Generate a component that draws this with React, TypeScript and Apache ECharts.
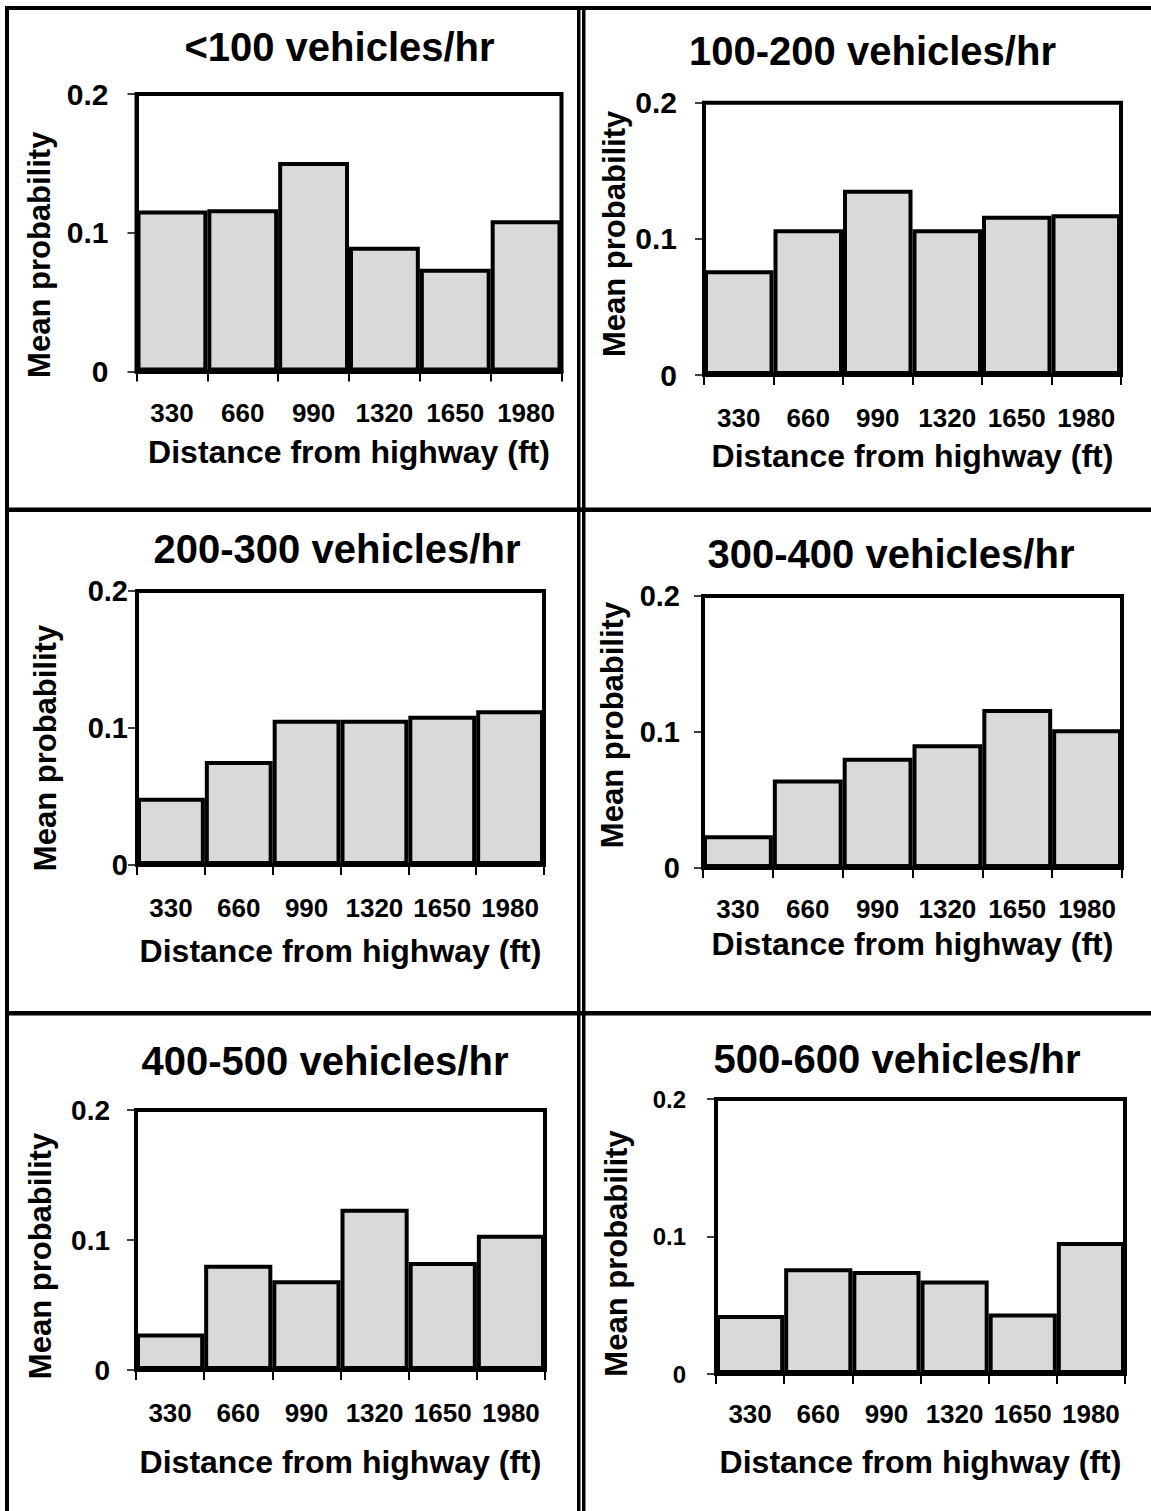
import React, { useEffect, useRef } from "react";
import * as echarts from "echarts";

// ---- data ----
const categories = ["330", "660", "990", "1320", "1650", "1980"];
const panelTitles = [
  "<100 vehicles/hr",
  "100-200 vehicles/hr",
  "200-300 vehicles/hr",
  "300-400 vehicles/hr",
  "400-500 vehicles/hr",
  "500-600 vehicles/hr",
];
const under100 = [0.116, 0.117, 0.151, 0.09, 0.074, 0.109];
const from100to200 = [0.077, 0.107, 0.136, 0.107, 0.117, 0.118];
const from200to300 = [0.049, 0.076, 0.106, 0.106, 0.109, 0.113];
const from300to400 = [0.024, 0.065, 0.081, 0.091, 0.117, 0.102];
const from400to500 = [0.028, 0.081, 0.069, 0.124, 0.083, 0.104];
const from500to600 = [0.043, 0.077, 0.075, 0.068, 0.044, 0.096];
const panelValues = [under100, from100to200, from200to300, from300to400, from400to500, from500to600];
const yMin = 0;
const yMax = 0.2;
const yStep = 0.1;
const yAxisName = "Mean probability";
const xAxisName = "Distance from highway (ft)";

// ---- layout (pixels) ----
const FONT = "'Liberation Sans', Arial, Helvetica, sans-serif";
const layouts = [
  { left: 136.5, top: 94, width: 425, height: 277.5, titleCx: 339.5, titleTop: 27, yNameGap: 82, yNameShift: 22, yLabelMargin: 28, yLabelSize: 30, xLabelMargin: 28.5, xNameGap: 64 },
  { left: 704, top: 102.7, width: 417, height: 272.3, titleCx: 872.5, titleTop: 31, yNameGap: 74, yNameShift: -5, yLabelMargin: 27, yLabelSize: 30, xLabelMargin: 30, xNameGap: 64.5 },
  { left: 137, top: 591, width: 407, height: 274, titleCx: 337, titleTop: 529, yNameGap: 76, yNameShift: 20, yLabelMargin: 9, yLabelSize: 29, xLabelMargin: 30, xNameGap: 69.5 },
  { left: 703, top: 596, width: 419, height: 272, titleCx: 891, titleTop: 534, yNameGap: 75, yNameShift: -7, yLabelMargin: 23, yLabelSize: 29, xLabelMargin: 28, xNameGap: 59.5 },
  { left: 136, top: 1110, width: 409, height: 260, titleCx: 325, titleTop: 1041, yNameGap: 80, yNameShift: 16, yLabelMargin: 26, yLabelSize: 28, xLabelMargin: 30, xNameGap: 75.5 },
  { left: 716, top: 1099, width: 409, height: 275, titleCx: 897, titleTop: 1039, yNameGap: 84, yNameShift: 17, yLabelMargin: 30, yLabelSize: 24, xLabelMargin: 27, xNameGap: 71.5 },
];
const TITLE_SIZE = 40;
const YNAME_SIZE = 31;
const XNAME_SIZE = 32;
const XLABEL_SIZE = 26;

function measure(text: string, font: string): number {
  const c = document.createElement("canvas");
  const ctx = c.getContext("2d");
  if (!ctx) return text.length * 20;
  ctx.font = font;
  return ctx.measureText(text).width;
}

function buildOption() {
  const grid: any[] = [];
  const xAxis: any[] = [];
  const yAxis: any[] = [];
  const series: any[] = [];
  const title: any[] = [];

  layouts.forEach((l, i) => {
    grid.push({
      left: l.left,
      top: l.top,
      width: l.width,
      height: l.height,
      show: true,
      borderColor: "#000",
      borderWidth: 4,
      backgroundColor: "transparent",
      containLabel: false,
    });
    xAxis.push({
      type: "category",
      gridIndex: i,
      data: categories,
      boundaryGap: true,
      axisLine: { show: true, lineStyle: { color: "#000", width: 4 } },
      axisTick: { show: true, inside: false, length: 10, lineStyle: { color: "#000", width: 2 } },
      axisLabel: {
        interval: 0,
        margin: l.xLabelMargin,
        color: "#000",
        fontFamily: FONT,
        fontWeight: "bold",
        fontSize: XLABEL_SIZE,
      },
      name: xAxisName,
      nameLocation: "middle",
      nameGap: l.xNameGap,
      nameTextStyle: { color: "#000", fontFamily: FONT, fontWeight: "bold", fontSize: XNAME_SIZE },
      splitLine: { show: false },
    });
    const shift = l.yNameShift;
    yAxis.push({
      type: "value",
      gridIndex: i,
      min: yMin,
      max: yMax,
      interval: yStep,
      axisLine: { show: true, lineStyle: { color: "#000", width: 4 } },
      axisTick: { show: true, inside: false, length: 9, lineStyle: { color: "#000", width: 1.5 } },
      axisLabel: {
        margin: l.yLabelMargin,
        color: "#000",
        fontFamily: FONT,
        fontWeight: "bold",
        fontSize: l.yLabelSize,
      },
      splitLine: { show: false },
      name: yAxisName,
      nameLocation: "middle",
      nameGap: l.yNameGap,
      nameTextStyle: {
        color: "#000",
        fontFamily: FONT,
        fontWeight: "bold",
        fontSize: YNAME_SIZE,
        padding: shift >= 0 ? [0, 2 * shift, 0, 0] : [0, 0, 0, -2 * shift],
      },
    });
    series.push({
      type: "bar",
      xAxisIndex: i,
      yAxisIndex: i,
      data: panelValues[i],
      barCategoryGap: "0%",
      silent: true,
      itemStyle: { color: "#d9d9d9", borderColor: "#000", borderWidth: 4 },
    });
    const w = measure(panelTitles[i], `bold ${TITLE_SIZE}px ${FONT}`);
    title.push({
      text: panelTitles[i],
      left: l.titleCx - w / 2,
      top: l.titleTop,
      padding: 0,
      textStyle: { color: "#000", fontFamily: FONT, fontWeight: "bold", fontSize: TITLE_SIZE },
    });
  });

  const graphic: any[] = [
    { type: "rect", shape: { x: 5, y: 6, width: 1146, height: 4 }, style: { fill: "#000" } },
    { type: "rect", shape: { x: 5, y: 6, width: 4, height: 1505 }, style: { fill: "#000" } },
    { type: "rect", shape: { x: 577, y: 6, width: 3.5, height: 1505 }, style: { fill: "#000" } },
    { type: "rect", shape: { x: 582, y: 6, width: 3.5, height: 1505 }, style: { fill: "#000" } },
    { type: "rect", shape: { x: 5, y: 507.5, width: 1146, height: 4.5 }, style: { fill: "#000" } },
    { type: "rect", shape: { x: 5, y: 1011, width: 1146, height: 4.5 }, style: { fill: "#000" } },
  ];

  return {
    animation: false,
    backgroundColor: "#fff",
    title,
    grid,
    xAxis,
    yAxis,
    series,
    graphic,
  };
}

export default function App() {
  const ref = useRef<HTMLDivElement>(null);
  useEffect(() => {
    if (!ref.current) return;
    const chart = echarts.init(ref.current, undefined, { renderer: "svg" });
    chart.setOption(buildOption());
    return () => chart.dispose();
  }, []);
  return (
    <div
      ref={ref}
      style={{ position: "absolute", left: 0, top: 0, width: 1151, height: 1511, background: "#fff" }}
    />
  );
}
